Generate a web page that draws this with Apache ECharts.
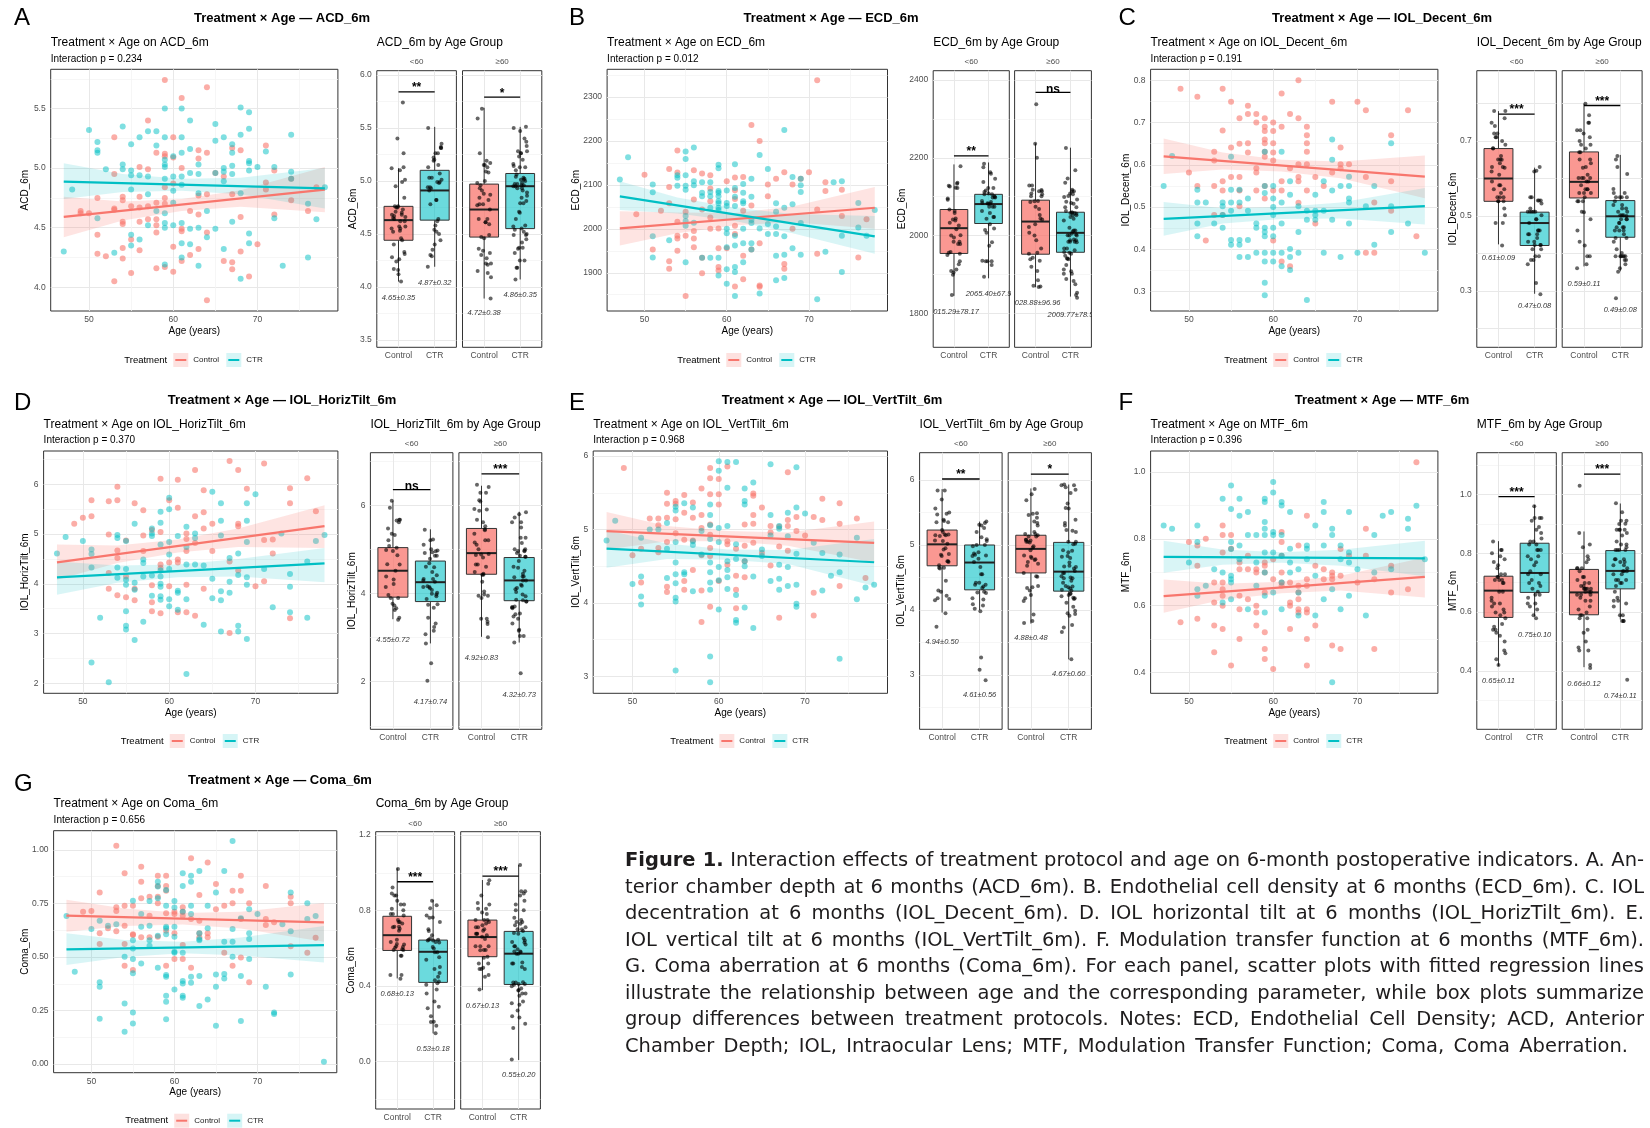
<!DOCTYPE html>
<html>
<head>
<meta charset="utf-8">
<script src="https://cdn.jsdelivr.net/npm/echarts@6/dist/echarts.min.js"></script>
<style>
html, body { margin: 0; padding: 0; background: #fff; }
#chart { position: absolute; left: 0; top: 0; width: 1650px; height: 1128px; }
#caption { position: absolute; left: 625px; top: 847px; width: 1019px; font-family: 'DejaVu Sans', 'Liberation Sans', Arial, sans-serif; font-size: 20px; color: #1e1c1d; }
#caption div { height: 26.5px; line-height: 26.5px; white-space: nowrap; text-align: justify; text-align-last: justify; }
#caption div.last { width: 1003px; }
#caption.measure div { text-align: left; text-align-last: left; }
</style>
</head>
<body>
<div id="chart"></div>
<div id="caption" class="measure">
<div><span><b>Figure 1.</b> Interaction effects of treatment protocol and age on 6-month postoperative indicators. A. An-</span></div>
<div><span>terior chamber depth at 6 months (ACD_6m). B. Endothelial cell density at 6 months (ECD_6m). C. IOL</span></div>
<div><span>decentration at 6 months (IOL_Decent_6m). D. IOL horizontal tilt at 6 months (IOL_HorizTilt_6m). E.</span></div>
<div><span>IOL vertical tilt at 6 months (IOL_VertTilt_6m). F. Modulation transfer function at 6 months (MTF_6m).</span></div>
<div><span>G. Coma aberration at 6 months (Coma_6m). For each panel, scatter plots with fitted regression lines</span></div>
<div><span>illustrate the relationship between age and the corresponding parameter, while box plots summarize</span></div>
<div><span>group differences between treatment protocols. Notes: ECD, Endothelial Cell Density; ACD, Anterior</span></div>
<div class="last"><span>Chamber Depth; IOL, Intraocular Lens; MTF, Modulation Transfer Function; Coma, Coma Aberration.</span></div>
</div>
<script>
const FONT = "'Liberation Sans', Arial, Helvetica, sans-serif";
const CTRL = '#F8766D';
const CTR = '#00BFC4';

const treatments = ['Control', 'CTR'];
const ageGroups = ['<60', '≥60'];
const outcomes = ['ACD_6m', 'ECD_6m', 'IOL_Decent_6m', 'IOL_HorizTilt_6m', 'IOL_VertTilt_6m', 'MTF_6m', 'Coma_6m'];
const panelLetters = ['A', 'B', 'C', 'D', 'E', 'F', 'G'];
const interactionP = ['0.234', '0.012', '0.191', '0.370', '0.968', '0.396', '0.656'];

// horizontal spread of the jittered points inside a box (category units)
const jitterOffsets = [-0.12, 0.05, 0.17, -0.03, 0.10, -0.18, 0.02, 0.14, -0.08, 0.19, -0.15, 0.07, -0.01, 0.12, -0.19, 0.04, 0.16, -0.06, 0.09, -0.13, 0.00, 0.18, -0.10];

// ---- A: ACD_6m ----
const acdCtrl = [[49,4.64],[49,4.62],[50,4.62],[51,4.75],[51,4.44],[51,4.28],[52,4.26],[53,5.26],[53,4.95],[53,4.66],[53,4.65],[53,4.05],[54,4.76],[54,4.73],[54,4.55],[54,4.53],[54,4.33],[54,4.24],[55,4.68],[55,4.40],[55,4.12],[56,5.01],[56,4.76],[56,4.67],[56,4.55],[56,4.31],[57,5.40],[57,4.99],[57,4.68],[57,4.57],[58,5.13],[58,4.71],[58,4.57],[58,4.52],[58,4.46],[58,4.16],[59,5.74],[59,5.12],[59,5.10],[59,4.84],[59,4.75],[59,4.70],[59,4.17],[60,5.26],[60,5.09],[60,4.87],[60,4.34],[60,4.13],[61,5.59],[61,5.00],[61,4.49],[61,4.47],[61,4.22],[62,4.64],[62,4.27],[63,5.15],[63,5.08],[63,4.77],[63,4.61],[63,4.32],[64,5.68],[64,5.13],[64,4.78],[64,4.46],[64,3.89],[65,4.96],[66,4.93],[66,4.22],[67,5.17],[67,4.78],[67,4.21],[67,4.15],[68,5.15],[68,4.59],[68,4.30],[69,4.09],[70,4.36],[71,5.19],[71,4.88],[71,4.82],[72,4.98],[72,4.61],[74,4.73],[74,4.91],[76,4.64],[77,4.84]];
const acdCtr = [[47,4.30],[48,4.82],[50,5.32],[51,5.22],[51,5.15],[51,5.13],[51,4.58],[52,4.99],[53,4.29],[54,5.35],[54,5.03],[54,4.99],[55,5.20],[55,4.98],[55,4.94],[55,4.82],[55,4.44],[55,4.35],[56,5.26],[56,4.94],[56,4.40],[57,5.31],[57,4.93],[57,4.78],[57,4.52],[58,5.31],[58,5.19],[58,4.64],[59,5.50],[59,5.26],[59,5.07],[59,5.03],[59,5.01],[59,4.91],[59,4.62],[59,4.54],[59,4.50],[59,4.19],[60,5.10],[60,4.93],[60,4.81],[60,4.71],[60,4.52],[61,5.50],[61,5.26],[61,5.13],[61,4.93],[61,4.86],[61,4.54],[61,4.37],[61,4.25],[62,5.40],[62,5.16],[62,4.96],[62,4.49],[62,4.36],[63,5.03],[63,4.95],[63,4.79],[63,4.50],[63,4.18],[64,4.64],[64,4.42],[65,5.37],[65,5.23],[65,4.96],[65,4.49],[66,5.26],[66,5.00],[66,4.97],[66,4.89],[66,4.32],[67,5.20],[67,5.13],[67,5.02],[67,4.95],[67,4.55],[68,5.51],[68,5.28],[68,4.79],[68,4.07],[69,5.47],[69,5.33],[69,5.06],[69,5.04],[69,4.98],[69,4.45],[69,4.37],[70,5.01],[71,5.14],[72,5.01],[72,4.58],[73,4.18],[74,5.28],[74,4.97],[74,4.91],[76,4.70],[76,4.25],[77,4.57],[78,4.84]];
const acdFitCtrl = [[47,4.59],[78,4.82]];
const acdFitCtr = [[47,4.887],[78,4.83]];
const acdBandCtrl = [[47,4.42,4.76],[54,4.56,4.72],[61,4.64,4.74],[68,4.675,4.815],[78,4.63,5.01]];
const acdBandCtr = [[47,4.74,5.04],[54,4.80,4.95],[61,4.81,4.91],[68,4.78,4.92],[78,4.66,5.00]];
const acdBoxYoung = [[4.05,4.44,4.63,4.76,5.12],[4.19,4.63,4.91,5.10,5.51]];
const acdBoxOld = [[3.89,4.47,4.73,4.97,5.69],[4.07,4.55,4.95,5.07,5.51]];
const acdMeanSd = ['4.65±0.35','4.87±0.32','4.72±0.38','4.86±0.35'];
const acdSig = ['**','*'];

// ---- B: ECD_6m ----
const ecdCtrl = [[49,2033],[50,2123],[51,1953],[52,2041],[53,2136],[53,2095],[53,2058],[53,1926],[53,1909],[54,2178],[54,2128],[54,2016],[54,1984],[54,1978],[54,1950],[55,2039],[55,1984],[55,1847],[56,2133],[56,2067],[56,1995],[56,1978],[56,1958],[57,2126],[57,2044],[57,1934],[57,1899],[58,2122],[58,2092],[58,2063],[58,2026],[58,2000],[59,2001],[59,1956],[59,1913],[59,1905],[60,2108],[60,1956],[61,2117],[61,2088],[61,2068],[61,2007],[61,1988],[61,1869],[62,2118],[62,2041],[62,1939],[62,1885],[63,2236],[63,2053],[63,1953],[64,2200],[64,1967],[64,1871],[64,1868],[65,2101],[65,2074],[66,2114],[67,2129],[67,1920],[67,1909],[68,2101],[68,2000],[69,2114],[70,2129],[71,2338],[71,2044],[71,1943],[72,2106],[72,2086],[74,2089],[74,2029],[76,1935],[77,2022]];
const ecdCtr = [[47,2112],[48,2163],[51,2101],[51,2083],[51,1983],[51,1935],[53,1974],[54,2122],[54,2116],[54,2098],[55,2176],[55,2159],[55,2122],[55,2098],[55,2089],[55,2029],[55,2018],[55,2007],[55,1924],[56,2185],[56,2108],[56,2099],[56,2014],[57,2106],[57,2082],[57,2074],[57,1934],[58,2106],[58,2084],[58,2074],[58,2048],[58,1934],[59,2146],[59,2138],[59,2086],[59,2082],[59,2074],[59,2063],[59,2058],[59,2048],[59,2043],[59,1934],[59,1894],[60,2087],[60,2059],[60,2052],[60,2000],[60,1990],[60,1958],[60,1908],[60,1875],[61,2147],[61,2093],[61,2073],[61,2052],[61,1984],[61,1962],[61,1913],[61,1902],[61,1847],[62,2102],[62,2082],[62,2063],[62,2058],[62,2000],[62,1967],[62,1924],[63,2114],[63,2073],[63,2020],[63,2013],[63,1967],[63,1953],[64,2168],[64,2001],[64,1853],[65,2136],[65,2011],[65,1988],[66,2058],[66,2039],[66,2005],[66,1988],[66,1939],[66,1883],[67,2225],[67,2048],[67,1983],[67,1941],[67,1888],[68,2118],[68,2056],[68,1956],[69,2114],[69,2099],[69,2084],[69,2013],[69,1941],[71,1840],[72,1948],[73,2106],[74,2108],[74,1984],[74,1902],[76,2059],[76,2003],[77,1984],[78,2043]];
const ecdFitCtrl = [[47,2001],[78,2048]];
const ecdFitCtr = [[47,2074],[78,1983]];
const ecdBandCtrl = [[47,1962,2040],[54,1990,2037],[61,2008,2036],[68,2015,2051],[78,2000,2095]];
const ecdBandCtr = [[47,2043,2108],[54,2035,2071],[61,2018,2048],[68,1990,2034],[78,1943,2029]];
const ecdBoxYoung = [[1845,1954,2019,2067,2183],[1890,2031,2081,2106,2188]];
const ecdBoxOld = [[1867,1952,2036,2091,2237],[1843,1957,2007,2060,2226]];
const ecdMeanSd = ['2015.29±78.17','2065.40±67.9','2028.88±96.96','2009.77±78.5'];
const ecdSig = ['**','ns'];

// ---- C: IOL_Decent_6m ----
const decCtrl = [[49,.780],[50,.582],[51,.761],[51,.550],[52,.421],[53,.631],[53,.610],[53,.550],[53,.481],[54,.780],[54,.681],[54,.561],[54,.539],[54,.481],[55,.749],[55,.641],[55,.571],[56,.710],[56,.650],[56,.571],[56,.539],[56,.502],[57,.740],[57,.720],[57,.651],[57,.629],[58,.720],[58,.700],[58,.592],[58,.582],[58,.539],[59,.710],[59,.690],[59,.680],[59,.660],[59,.651],[59,.631],[59,.619],[59,.550],[59,.520],[60,.700],[60,.680],[60,.651],[60,.629],[60,.610],[60,.539],[60,.421],[61,.769],[61,.690],[61,.561],[61,.539],[61,.371],[62,.720],[62,.592],[62,.360],[63,.800],[63,.710],[63,.601],[63,.571],[63,.561],[63,.510],[64,.690],[64,.670],[64,.651],[64,.631],[64,.601],[64,.539],[65,.571],[65,.461],[66,.550],[67,.749],[67,.582],[68,.641],[68,.601],[68,.592],[69,.601],[70,.749],[71,.729],[71,.571],[71,.392],[72,.511],[72,.392],[74,.670],[74,.561],[74,.491],[76,.729],[77,.431]];
const decCtr = [[47,.550],[48,.621],[51,.541],[51,.511],[51,.461],[51,.431],[52,.511],[53,.461],[54,.511],[54,.502],[54,.481],[54,.451],[55,.619],[55,.541],[55,.511],[55,.491],[55,.422],[55,.411],[56,.541],[56,.511],[56,.422],[56,.411],[56,.382],[57,.520],[57,.491],[57,.422],[57,.382],[58,.461],[58,.451],[58,.392],[59,.631],[59,.550],[59,.533],[59,.451],[59,.441],[59,.431],[59,.392],[59,.371],[59,.321],[59,.291],[60,.550],[60,.520],[60,.500],[60,.481],[60,.451],[60,.431],[60,.392],[60,.371],[61,.631],[61,.511],[61,.461],[61,.392],[61,.360],[62,.561],[62,.529],[62,.401],[62,.382],[62,.351],[63,.502],[63,.441],[63,.392],[64,.491],[64,.470],[64,.280],[65,.529],[65,.491],[65,.481],[65,.470],[66,.561],[66,.491],[66,.392],[67,.660],[67,.612],[67,.539],[67,.470],[68,.550],[68,.382],[69,.572],[69,.550],[69,.520],[69,.511],[69,.461],[70,.392],[71,.502],[72,.550],[72,.411],[74,.651],[74,.502],[74,.441],[76,.461],[78,.392]];
const decFitCtrl = [[47,.620],[78,.572]];
const decFitCtr = [[47,.472],[78,.502]];
const decBandCtrl = [[47,.578,.662],[54,.589,.629],[61,.584,.612],[68,.568,.608],[78,.521,.622]];
const decBandCtr = [[47,.432,.512],[54,.461,.497],[61,.472,.500],[68,.473,.511],[78,.459,.545]];
const decBoxYoung = [[.424,.539,.600,.680,.780],[.292,.421,.481,.510,.629]];
const decBoxOld = [[.365,.548,.591,.671,.800],[.352,.443,.499,.541,.663]];
const decMeanSd = ['0.61±0.09','0.47±0.08','0.59±0.11','0.49±0.08'];
const decSig = ['***','***'];

// ---- D: IOL_HorizTilt_6m ----
const htCtrl = [[49,5.21],[50,5.33],[51,5.68],[51,5.36],[53,5.66],[53,4.99],[53,4.22],[53,3.90],[54,5.95],[54,5.68],[54,4.67],[54,4.52],[54,3.77],[55,4.87],[55,4.15],[55,3.73],[56,5.62],[56,3.90],[56,3.67],[57,5.48],[57,4.97],[57,4.66],[58,5.08],[58,3.97],[58,3.63],[58,3.45],[59,6.11],[59,5.04],[59,4.39],[59,4.32],[59,3.41],[60,5.68],[60,4.43],[60,3.95],[61,6.09],[61,5.53],[61,4.49],[61,4.43],[61,3.43],[62,5.01],[62,4.90],[62,4.66],[62,3.98],[62,3.43],[63,6.29],[63,5.36],[63,4.82],[63,3.36],[64,5.88],[64,5.44],[64,5.11],[64,3.90],[65,5.21],[65,4.66],[67,6.47],[67,4.45],[67,3.01],[68,6.29],[68,5.21],[68,5.16],[68,4.27],[69,5.91],[70,3.95],[71,6.42],[71,4.88],[71,4.05],[72,4.89],[72,4.61],[74,5.92],[74,5.62],[74,3.31],[76,6.12],[77,5.46]];
const htCtr = [[47,4.61],[48,4.94],[50,4.86],[51,4.69],[51,4.60],[51,4.33],[51,2.42],[52,3.32],[53,2.02],[54,4.98],[54,4.92],[54,4.33],[54,4.12],[55,4.86],[55,4.30],[55,4.08],[55,3.98],[55,3.45],[55,3.16],[55,3.08],[56,5.21],[56,4.02],[56,3.88],[56,2.87],[57,4.49],[57,4.42],[57,4.15],[57,3.24],[58,5.11],[58,5.01],[58,4.96],[58,4.17],[58,3.76],[59,5.45],[59,5.23],[59,4.79],[59,4.27],[59,4.15],[59,4.00],[59,3.94],[59,3.75],[59,3.68],[60,5.73],[60,5.50],[60,4.84],[60,4.59],[60,4.30],[60,3.69],[60,3.55],[61,4.96],[61,3.86],[61,3.82],[61,3.48],[62,5.15],[62,4.74],[62,4.39],[62,3.69],[62,2.19],[63,5.01],[63,4.92],[63,4.39],[64,4.37],[64,3.18],[65,5.85],[65,4.10],[65,3.71],[66,5.62],[66,5.27],[66,4.97],[66,3.85],[66,3.67],[66,3.04],[67,4.52],[67,4.04],[67,3.82],[68,4.61],[68,4.18],[68,3.16],[68,3.04],[69,5.62],[69,5.27],[69,4.84],[69,4.13],[69,3.98],[69,2.89],[70,5.80],[71,4.30],[72,3.53],[73,5.01],[74,4.20],[74,3.94],[74,3.43],[76,4.45],[76,3.32],[77,4.86],[78,4.98]];
const htFitCtrl = [[47,4.43],[78,5.16]];
const htFitCtr = [[47,4.13],[78,4.41]];
const htBandCtrl = [[47,4.08,4.79],[54,4.42,4.77],[61,4.63,4.89],[68,4.74,5.11],[78,4.72,5.58]];
const htBandCtr = [[47,3.78,4.45],[54,4.02,4.37],[61,4.13,4.39],[68,4.15,4.50],[78,4.03,4.72]];
const htBoxYoung = [[3.42,3.92,4.52,5.045,6.11],[2.87,3.82,4.26,4.74,5.46]];
const htBoxOld = [[3.02,4.44,4.92,5.48,6.45],[2.89,3.84,4.30,4.82,5.86]];
const htMeanSd = ['4.55±0.72','4.17±0.74','4.92±0.83','4.32±0.73'];
const htSig = ['ns','***'];

// ---- E: IOL_VertTilt_6m ----
const vtCtrl = [[49,5.84],[50,4.65],[51,4.74],[51,4.28],[52,5.15],[53,5.15],[53,5.06],[53,4.75],[53,4.69],[54,5.50],[54,5.35],[54,5.16],[54,4.83],[54,4.22],[54,4.15],[55,5.39],[55,5.35],[55,5.14],[55,4.95],[56,5.47],[56,5.23],[56,4.86],[56,4.30],[56,4.18],[57,5.37],[57,5.16],[57,4.85],[57,4.45],[58,5.56],[58,5.20],[58,5.02],[58,4.65],[58,4.17],[58,3.74],[59,5.84],[59,5.70],[59,5.48],[59,5.07],[59,4.93],[59,4.75],[59,4.64],[59,3.95],[60,5.69],[60,5.48],[60,5.34],[60,4.30],[61,5.86],[61,4.84],[61,4.80],[61,4.52],[62,4.74],[62,4.37],[62,4.18],[62,3.93],[63,5.07],[63,4.78],[63,4.57],[63,4.35],[64,5.49],[64,5.46],[64,5.20],[64,5.08],[64,4.82],[65,5.30],[65,4.68],[66,5.05],[66,4.96],[66,4.51],[67,5.04],[67,4.77],[67,3.80],[68,5.78],[68,5.13],[68,5.05],[68,4.71],[69,5.17],[69,4.98],[70,4.92],[71,5.17],[71,4.14],[71,3.83],[72,5.42],[72,5.13],[74,5.36],[74,5.08],[74,4.23],[76,5.15],[77,4.34]];
const vtCtr = [[47,4.85],[48,5.12],[50,4.26],[51,4.89],[51,4.36],[51,4.09],[51,3.98],[52,5.00],[53,5.00],[54,5.09],[54,4.74],[54,4.34],[55,5.31],[55,5.26],[55,4.83],[55,4.55],[55,4.39],[55,4.27],[55,4.07],[55,4.02],[55,3.08],[56,5.36],[56,4.42],[56,4.39],[57,5.30],[57,4.84],[57,4.79],[57,4.16],[58,4.98],[58,4.66],[59,5.34],[59,5.20],[59,5.06],[59,4.87],[59,4.55],[59,4.42],[59,4.28],[59,4.18],[59,3.27],[59,2.92],[60,5.93],[60,5.80],[60,5.02],[60,4.83],[60,4.49],[60,4.31],[60,3.91],[61,5.92],[61,5.57],[61,5.05],[61,4.57],[61,4.45],[61,4.35],[61,4.19],[62,5.92],[62,4.80],[62,4.60],[62,4.11],[62,3.77],[62,3.73],[63,5.56],[63,5.39],[63,5.34],[63,4.57],[63,4.50],[63,3.94],[64,5.64],[64,4.36],[64,3.66],[65,4.73],[65,4.64],[66,5.89],[66,5.20],[66,4.92],[66,4.30],[67,5.05],[67,5.01],[67,4.52],[67,4.33],[67,4.18],[68,5.23],[68,4.91],[68,4.49],[68,4.23],[69,5.85],[69,5.30],[69,4.67],[69,4.25],[69,3.99],[69,3.95],[70,5.22],[71,4.82],[72,4.68],[72,4.17],[73,4.37],[74,4.66],[74,4.42],[74,3.24],[76,4.89],[76,4.05],[77,4.21],[78,4.25]];
const vtFitCtrl = [[47,4.98],[78,4.82]];
const vtFitCtr = [[47,4.74],[78,4.555]];
const vtBandCtrl = [[47,4.73,5.24],[54,4.84,5.05],[61,4.84,4.98],[68,4.78,4.96],[78,4.55,5.11]];
const vtBandCtr = [[47,4.48,4.99],[54,4.60,4.81],[61,4.59,4.73],[68,4.53,4.72],[78,4.23,4.87]];
const vtBoxYoung = [[3.96,4.68,5.01,5.23,5.86],[4.00,4.31,4.73,5.00,5.36]];
const vtBoxOld = [[3.79,4.57,4.94,5.15,5.87],[3.24,4.29,4.59,5.04,5.93]];
const vtMeanSd = ['4.94±0.50','4.61±0.56','4.88±0.48','4.67±0.60'];
const vtSig = ['**','*'];

// ---- F: MTF_6m ----
const mtfCtrl = [[49,.550],[50,.790],[51,.780],[51,.719],[51,.560],[52,.800],[53,.669],[53,.609],[53,.540],[53,.460],[54,.840],[54,.811],[54,.759],[54,.669],[54,.649],[54,.629],[54,.599],[54,.530],[55,.811],[55,.770],[55,.420],[56,.729],[56,.709],[56,.629],[56,.589],[56,.500],[57,.749],[57,.709],[57,.619],[58,.709],[58,.699],[58,.599],[58,.579],[58,.540],[59,.729],[59,.719],[59,.699],[59,.639],[59,.520],[59,.470],[59,.440],[60,.739],[60,.679],[60,.410],[61,.820],[61,.790],[61,.749],[61,.699],[61,.669],[61,.659],[62,.669],[62,.609],[62,.599],[62,.530],[63,.780],[63,.659],[63,.639],[63,.619],[63,.589],[63,.579],[64,.869],[64,.679],[64,.659],[64,.589],[64,.579],[64,.500],[64,.420],[65,.719],[65,.540],[66,.709],[66,.679],[67,.699],[67,.689],[67,.679],[67,.480],[68,.769],[68,.689],[68,.470],[69,.749],[70,.669],[71,.830],[71,.749],[72,.679],[72,.470],[74,.719],[74,.639],[76,.649],[77,1.029]];
const mtfCtr = [[47,.840],[48,.830],[50,.729],[51,.840],[51,.790],[51,.649],[51,.629],[52,.659],[53,.709],[54,.920],[54,.699],[54,.609],[55,.960],[55,.889],[55,.790],[55,.769],[55,.689],[55,.679],[55,.669],[55,.619],[56,.920],[56,.869],[56,.780],[56,.739],[57,.880],[57,.811],[57,.589],[58,.811],[58,.729],[58,.659],[59,.920],[59,.910],[59,.850],[59,.830],[59,.811],[59,.759],[59,.699],[59,.629],[59,.579],[60,.970],[60,.939],[60,.820],[60,.811],[60,.759],[60,.639],[61,.910],[61,.900],[61,.811],[61,.749],[61,.669],[61,.589],[62,.880],[62,.770],[62,.729],[62,.699],[63,.709],[63,.639],[63,.570],[64,.780],[64,.770],[64,.739],[65,.840],[65,.689],[65,.570],[66,.910],[66,.880],[66,.780],[66,.619],[67,.830],[67,.811],[67,.649],[67,.370],[68,.780],[68,.739],[68,.589],[69,.880],[69,.759],[69,.729],[69,.629],[70,.709],[71,.570],[72,.811],[72,.699],[73,.869],[74,.880],[74,.709],[76,.860],[76,.830],[77,.899],[78,.739]];
const mtfFitCtrl = [[47,.628],[78,.686]];
const mtfFitCtr = [[47,.746],[78,.741]];
const mtfBandCtrl = [[47,.578,.678],[54,.617,.665],[61,.637,.671],[68,.645,.689],[78,.624,.744]];
const mtfBandCtr = [[47,.698,.794],[54,.722,.768],[61,.728,.760],[68,.719,.767],[78,.688,.794]];
const mtfBoxYoung = [[.417,.582,.673,.722,.841],[.586,.667,.733,.834,.964]];
const mtfBoxOld = [[.413,.591,.667,.745,.874],[.575,.679,.740,.809,.969]];
const mtfMeanSd = ['0.65±0.11','0.75±0.10','0.66±0.12','0.74±0.11'];
const mtfSig = ['***','***'];

// ---- G: Coma_6m ----
const comaCtrl = [[49,.712],[50,.715],[51,.802],[51,.611],[51,.561],[52,.634],[53,1.020],[53,.732],[53,.715],[53,.621],[54,.891],[54,.740],[54,.646],[54,.561],[54,.459],[55,.740],[55,.607],[55,.603],[55,.439],[56,.922],[56,.852],[56,.774],[56,.592],[57,.782],[57,.693],[57,.592],[58,.880],[58,.832],[58,.782],[58,.751],[58,.595],[59,.880],[59,.832],[59,.810],[59,.704],[59,.623],[59,.459],[60,.712],[60,.701],[60,.611],[60,.491],[61,.732],[61,.712],[61,.693],[61,.556],[61,.491],[62,.961],[62,.678],[62,.450],[63,.790],[63,.670],[63,.611],[63,.592],[64,.942],[64,.611],[64,.592],[65,.841],[65,.723],[66,.740],[66,.520],[67,.810],[67,.751],[67,.459],[68,.880],[68,.810],[68,.678],[68,.498],[69,.751],[69,.382],[71,.832],[71,.678],[71,.650],[72,.662],[74,.782],[74,.751],[74,.551],[76,.520],[77,.590]];
const comaCtr = [[47,.692],[48,.431],[50,.631],[51,.670],[51,.382],[51,.361],[51,.212],[52,.646],[53,.653],[54,.502],[54,.283],[54,.151],[55,.763],[55,.579],[55,.540],[55,.491],[55,.424],[55,.241],[55,.190],[56,.701],[56,.642],[56,.470],[57,.762],[57,.646],[57,.579],[57,.553],[58,.852],[58,.829],[58,.774],[58,.600],[58,.450],[59,.813],[59,.740],[59,.642],[59,.634],[59,.607],[59,.416],[59,.408],[59,.319],[59,.291],[59,.210],[60,.762],[60,.731],[60,.642],[60,.595],[60,.525],[60,.520],[60,.349],[61,.891],[61,.832],[61,.712],[61,.520],[61,.388],[61,.377],[61,.319],[61,.310],[62,.880],[62,.852],[62,.740],[62,.701],[62,.408],[62,.380],[63,.902],[63,.611],[63,.584],[63,.579],[63,.411],[63,.271],[64,.740],[64,.634],[64,.302],[65,.802],[65,.419],[65,.361],[65,.179],[66,.902],[66,.572],[66,.421],[66,.400],[67,1.042],[67,.631],[67,.572],[67,.502],[68,.681],[68,.411],[68,.201],[69,.723],[69,.611],[69,.584],[69,.491],[70,.701],[71,.361],[72,.241],[72,.234],[73,.653],[74,.802],[74,.621],[74,.419],[76,.751],[76,.678],[77,.692],[78,.011]];
const comaFitCtrl = [[47,.693],[78,.662]];
const comaFitCtr = [[47,.536],[78,.556]];
const comaBandCtrl = [[47,.618,.768],[54,.645,.727],[61,.652,.706],[68,.633,.711],[78,.572,.752]];
const comaBandCtr = [[47,.463,.611],[54,.500,.580],[61,.518,.572],[68,.507,.591],[78,.475,.645]];
const comaBoxYoung = [[.441,.589,.670,.770,1.024],[.150,.420,.582,.644,.856]];
const comaBoxOld = [[.379,.556,.660,.750,.962],[.009,.409,.572,.690,1.041]];
const comaMeanSd = ['0.68±0.13','0.53±0.18','0.67±0.13','0.55±0.20'];
const comaSig = ['***','***'];

const panelData = [
  { ctrl: acdCtrl, ctr: acdCtr, fitCtrl: acdFitCtrl, fitCtr: acdFitCtr, bandCtrl: acdBandCtrl, bandCtr: acdBandCtr, boxYoung: acdBoxYoung, boxOld: acdBoxOld, meanSd: acdMeanSd, sig: acdSig },
  { ctrl: ecdCtrl, ctr: ecdCtr, fitCtrl: ecdFitCtrl, fitCtr: ecdFitCtr, bandCtrl: ecdBandCtrl, bandCtr: ecdBandCtr, boxYoung: ecdBoxYoung, boxOld: ecdBoxOld, meanSd: ecdMeanSd, sig: ecdSig },
  { ctrl: decCtrl, ctr: decCtr, fitCtrl: decFitCtrl, fitCtr: decFitCtr, bandCtrl: decBandCtrl, bandCtr: decBandCtr, boxYoung: decBoxYoung, boxOld: decBoxOld, meanSd: decMeanSd, sig: decSig },
  { ctrl: htCtrl, ctr: htCtr, fitCtrl: htFitCtrl, fitCtr: htFitCtr, bandCtrl: htBandCtrl, bandCtr: htBandCtr, boxYoung: htBoxYoung, boxOld: htBoxOld, meanSd: htMeanSd, sig: htSig },
  { ctrl: vtCtrl, ctr: vtCtr, fitCtrl: vtFitCtrl, fitCtr: vtFitCtr, bandCtrl: vtBandCtrl, bandCtr: vtBandCtr, boxYoung: vtBoxYoung, boxOld: vtBoxOld, meanSd: vtMeanSd, sig: vtSig },
  { ctrl: mtfCtrl, ctr: mtfCtr, fitCtrl: mtfFitCtrl, fitCtr: mtfFitCtr, bandCtrl: mtfBandCtrl, bandCtr: mtfBandCtr, boxYoung: mtfBoxYoung, boxOld: mtfBoxOld, meanSd: mtfMeanSd, sig: mtfSig },
  { ctrl: comaCtrl, ctr: comaCtr, fitCtrl: comaFitCtrl, fitCtr: comaFitCtr, bandCtrl: comaBandCtrl, bandCtr: comaBandCtr, boxYoung: comaBoxYoung, boxOld: comaBoxOld, meanSd: comaMeanSd, sig: comaSig },
];

// page layout (pixels) and axis ranges
const rows = [
  { letterY: 18, titleY: 18, subY: 43, pY: 59, scTop: 69.3, scBottom: 311, boxTop: 70.7, boxBottom: 347.3, stripY: 62, legendY: 360 },
  { letterY: 403, titleY: 400.7, subY: 424.3, pY: 440.3, scTop: 451, scBottom: 693.3, boxTop: 452.7, boxBottom: 729.3, stripY: 444, legendY: 741 },
  { letterY: 784, titleY: 780, subY: 804, pY: 820, scTop: 830.7, scBottom: 1072.7, boxTop: 831.7, boxBottom: 1109, stripY: 823.3, legendY: 1120.7 },
];
const layouts = [
  { row: 0, letterX: 14, titleX: 282, sc: [50.7, 337.9], b1: [376.8, 456.4], b2: [462.5, 541.8], scY: [3.80, 5.83], scStep: 0.5, scDig: 1, boxY: [3.43, 6.04], boxStep: 0.5, boxDig: 1, scGap: 20, boxGap: 19, meanY: [3.90, 4.04, 3.75, 3.92], sigY: [5.84, 5.79] },
  { row: 0, letterX: 569, titleX: 831, sc: [607.1, 887.5], b1: [933.2, 1009.3], b2: [1014.6, 1091.4], scY: [1813, 2363], scStep: 100, scDig: 0, boxY: [1712.6, 2424], boxStep: 200, boxDig: 0, scGap: 26, boxGap: 26, meanY: [1803, 1850, 1826, 1797], sigY: [2205, 2368] },
  { row: 0, letterX: 1118.6, titleX: 1382, sc: [1150.6, 1437.9], b1: [1476.8, 1556.3], b2: [1562.2, 1642.1], scY: [0.254, 0.826], scStep: 0.1, scDig: 1, boxY: [0.149, 0.888], boxStep: 0.1, boxDig: 1, oddOnly: true, scGap: 19, boxGap: 19, meanY: [0.389, 0.260, 0.319, 0.249], sigY: [0.772, 0.795] },
  { row: 1, letterX: 14, titleX: 282, sc: [43.6, 337.9], b1: [370.4, 452.9], b2: [458.9, 541.8], scY: [1.80, 6.67], scStep: 1, scDig: 0, boxY: [0.92, 7.20], boxStep: 2, boxDig: 0, scGap: 13, boxGap: 13, meanY: [2.94, 1.55, 2.55, 1.71], sigY: [6.36, 6.72] },
  { row: 1, letterX: 569, titleX: 832, sc: [593.2, 887.5], b1: [919.6, 1002.1], b2: [1008.2, 1091.4], scY: [2.77, 6.07], scStep: 1, scDig: 0, boxY: [2.164, 6.42], boxStep: 1, boxDig: 0, scGap: 12, boxGap: 13, meanY: [3.51, 2.70, 3.57, 3.02], sigY: [6.015, 6.09] },
  { row: 1, letterX: 1118.6, titleX: 1382, sc: [1150.6, 1437.9], b1: [1476.8, 1556.3], b2: [1562.2, 1642.1], scY: [0.337, 1.063], scStep: 0.2, scDig: 1, boxY: [0.202, 1.1415], boxStep: 0.2, boxDig: 1, scGap: 19, boxGap: 19, meanY: [0.366, 0.524, 0.356, 0.317], sigY: [0.992, 1.069] },
  { row: 2, letterX: 14, titleX: 280, sc: [53.6, 336.8], b1: [375.7, 454.6], b2: [460.7, 540.4], scY: [-0.04, 1.09], scStep: 0.25, scDig: 2, boxY: [-0.2506, 1.218], boxStep: 0.4, boxDig: 1, scGap: 23, boxGap: 19, meanY: [0.357, 0.067, 0.297, -0.071], sigY: [0.953, 0.983] },
];

const grids = [], xAxes = [], yAxes = [], series = [], graphics = [];

function txt(x, y, text, font, align, fill) {
  graphics.push({
    type: 'text', x, y, silent: true,
    style: { text, font, fill: fill || '#000', align: align || 'left', verticalAlign: 'middle', textAlign: align || 'left', textVerticalAlign: 'middle' },
  });
}

function addGrid(l, r, t, b) {
  grids.push({ left: l, top: t, width: r - l, height: b - t, show: true, borderColor: '#333', borderWidth: 1, backgroundColor: 'transparent', containLabel: false, outerBoundsMode: 'none' });
  return grids.length - 1;
}

function valueAxis(gridIndex, range, step, labelOpt, extra) {
  return Object.assign({
    type: 'value', gridIndex, min: range[0], max: range[1], minInterval: step, maxInterval: step,
    axisLine: { show: false }, axisTick: { show: false },
    axisLabel: Object.assign({ color: '#4D4D4D', fontSize: 8.5, fontFamily: FONT, margin: 4, showMinLabel: false, showMaxLabel: false }, labelOpt),
    splitLine: { show: true, showMinLine: false, showMaxLine: false, lineStyle: { color: '#E8E8E8', width: 1 } },
    minorTick: { show: false, splitNumber: 2 },
    minorSplitLine: { show: true, lineStyle: { color: '#F4F4F4', width: 0.8 } },
    nameMoveOverlap: false,
    nameTextStyle: { fontSize: 10, color: '#000', fontFamily: FONT },
  }, extra);
}

function bandSeries(xi, yi, band, color, alpha) {
  return {
    type: 'custom', xAxisIndex: xi, yAxisIndex: yi, data: band, z: 3, silent: true,
    renderItem(params, api) {
      if (params.dataIndex !== 0) return null;
      const upper = band.map(r => api.coord([r[0], r[2]]));
      const lower = band.map(r => api.coord([r[0], r[1]])).reverse();
      return { type: 'polygon', shape: { points: upper.concat(lower) }, style: { fill: color, opacity: alpha } };
    },
  };
}

function boxSeries(xi, yi, stats) {
  const fills = ['rgba(248,118,109,0.75)', 'rgba(0,191,196,0.58)'];
  return {
    type: 'custom', xAxisIndex: xi, yAxisIndex: yi, z: 2, silent: true,
    data: stats.map((s, i) => [i + 1].concat(s)),
    encode: { x: 0, y: [1, 2, 3, 4, 5] },
    renderItem(params, api) {
      const x = api.value(0);
      const p = [1, 2, 3, 4, 5].map(d => api.coord([x, api.value(d)]));
      const half = api.size([0.8, 0])[0] / 2;
      const cx = p[0][0];
      return {
        type: 'group', children: [
          { type: 'line', shape: { x1: cx, y1: p[0][1], x2: cx, y2: p[1][1] }, style: { stroke: '#333', lineWidth: 1 } },
          { type: 'line', shape: { x1: cx, y1: p[3][1], x2: cx, y2: p[4][1] }, style: { stroke: '#333', lineWidth: 1 } },
          { type: 'rect', shape: { x: cx - half, y: p[3][1], width: half * 2, height: p[1][1] - p[3][1] }, style: { fill: fills[params.dataIndex], stroke: '#333', lineWidth: 1 } },
          { type: 'line', shape: { x1: cx - half, y1: p[2][1], x2: cx + half, y2: p[2][1] }, style: { stroke: '#222', lineWidth: 2 } },
        ],
      };
    },
  };
}

function annotSeries(xi, yi, sigText, sigY, meanText, meanY) {
  return {
    type: 'custom', xAxisIndex: xi, yAxisIndex: yi, z: 5, silent: true, clip: true,
    data: [[1.5, sigY]],
    renderItem(params, api) {
      const a = api.coord([1, sigY]), b = api.coord([2, sigY]);
      const m1 = api.coord([1, meanY[0]]), m2 = api.coord([2, meanY[1]]);
      const big = sigText === 'ns';
      const label = (x, y, text) => ({ type: 'text', x, y, style: { text, font: 'italic 7.5px ' + FONT, fill: '#333', align: 'center', verticalAlign: 'middle', textAlign: 'center', textVerticalAlign: 'middle' } });
      return {
        type: 'group', children: [
          { type: 'line', shape: { x1: a[0], y1: a[1], x2: b[0], y2: b[1] }, style: { stroke: '#000', lineWidth: 1.3 } },
          { type: 'text', x: (a[0] + b[0]) / 2, y: a[1] + (big ? 3 : 2), style: { text: sigText, font: 'bold 12px ' + FONT, fill: '#000', align: 'center', verticalAlign: 'bottom', textAlign: 'center', textVerticalAlign: 'bottom' } },
          label(m1[0], m1[1], meanText[0]),
          label(m2[0], m2[1], meanText[1]),
        ],
      };
    },
  };
}

function jitter(points, center, young) {
  return points.filter(pt => (young ? pt[0] < 60 : pt[0] >= 60))
    .map((pt, i) => [center + jitterOffsets[i % jitterOffsets.length], pt[1]]);
}

panelData.forEach((d, k) => {
  const L = layouts[k], R = rows[L.row];
  const name = outcomes[k];

  txt(L.letterX, R.letterY, panelLetters[k], '24px ' + FONT);
  txt(L.titleX, R.titleY, 'Treatment × Age — ' + name, 'bold 13px ' + FONT, 'center');
  txt(L.sc[0], R.subY, 'Treatment × Age on ' + name, '12px ' + FONT);
  txt(L.sc[0], R.pY, 'Interaction p = ' + interactionP[k], '10px ' + FONT);
  txt(L.b1[0], R.subY, name + ' by Age Group', '12px ' + FONT);
  txt((L.b1[0] + L.b1[1]) / 2, R.stripY, ageGroups[0], '8px ' + FONT, 'center', '#4D4D4D');
  txt((L.b2[0] + L.b2[1]) / 2, R.stripY, ageGroups[1], '8px ' + FONT, 'center', '#4D4D4D');

  // legend under the scatter panel
  const lx = (L.sc[0] + L.sc[1]) / 2 - 70, ly = R.legendY;
  txt(lx, ly, 'Treatment', '9.5px ' + FONT);
  [[CTRL, 'rgba(248,118,109,0.22)', 49, treatments[0]], [CTR, 'rgba(0,191,196,0.16)', 102, treatments[1]]].forEach(([c, bg, off, label]) => {
    graphics.push({ type: 'rect', silent: true, shape: { x: lx + off, y: ly - 7, width: 15, height: 14 }, style: { fill: bg } });
    graphics.push({ type: 'line', silent: true, shape: { x1: lx + off + 2, y1: ly, x2: lx + off + 13, y2: ly }, style: { stroke: c, lineWidth: 2 } });
    txt(lx + off + 20, ly, label, '8px ' + FONT, 'left', '#222');
  });

  // scatter + regression
  const gi = addGrid(L.sc[0], L.sc[1], R.scTop, R.scBottom);
  xAxes.push(valueAxis(gi, [45.45, 79.55], 10, { formatter: v => v.toFixed(0) }, { name: 'Age (years)', nameLocation: 'middle', nameGap: 15 }));
  yAxes.push(valueAxis(gi, L.scY, L.scStep, { formatter: v => v.toFixed(L.scDig), margin: 5 }, { name, nameLocation: 'middle', nameRotate: 90, nameGap: L.scGap }));
  const xi = xAxes.length - 1, yi = yAxes.length - 1;
  series.push(
    { type: 'scatter', xAxisIndex: xi, yAxisIndex: yi, data: d.ctrl, symbolSize: 6, itemStyle: { color: CTRL, opacity: 0.6 }, z: 2, silent: true },
    { type: 'scatter', xAxisIndex: xi, yAxisIndex: yi, data: d.ctr, symbolSize: 6, itemStyle: { color: CTR, opacity: 0.5 }, z: 2, silent: true },
    bandSeries(xi, yi, d.bandCtrl, CTRL, 0.2),
    bandSeries(xi, yi, d.bandCtr, CTR, 0.15),
    { type: 'line', xAxisIndex: xi, yAxisIndex: yi, data: d.fitCtrl, symbol: 'none', lineStyle: { color: CTRL, width: 2.2 }, z: 4, silent: true },
    { type: 'line', xAxisIndex: xi, yAxisIndex: yi, data: d.fitCtr, symbol: 'none', lineStyle: { color: CTR, width: 2.2 }, z: 4, silent: true },
  );

  // box plot facets by age group
  [[L.b1, d.boxYoung, true], [L.b2, d.boxOld, false]].forEach(([b, stats, young], f) => {
    const g = addGrid(b[0], b[1], R.boxTop, R.boxBottom);
    xAxes.push(valueAxis(g, [0.4, 2.6], 1, { formatter: v => (v === 1 ? treatments[0] : v === 2 ? treatments[1] : ''), margin: 4 }, { minorSplitLine: { show: false } }));
    const yLabel = { formatter: v => (L.oddOnly && Math.round(v * 10) % 2 === 0 ? '' : v.toFixed(L.boxDig)), margin: 5, show: f === 0 };
    const yExtra = f === 0 ? { name, nameLocation: 'middle', nameRotate: 90, nameGap: L.boxGap } : {};
    if (L.oddOnly) yExtra.minorSplitLine = { show: false };
    yAxes.push(valueAxis(g, L.boxY, L.boxStep, yLabel, yExtra));
    const bx = xAxes.length - 1, by = yAxes.length - 1;
    series.push(
      boxSeries(bx, by, stats),
      { type: 'scatter', xAxisIndex: bx, yAxisIndex: by, data: jitter(d.ctrl, 1, young), symbolSize: 4, itemStyle: { color: '#000', opacity: 0.6 }, z: 3, silent: true },
      { type: 'scatter', xAxisIndex: bx, yAxisIndex: by, data: jitter(d.ctr, 2, young), symbolSize: 4, itemStyle: { color: '#000', opacity: 0.6 }, z: 3, silent: true },
      annotSeries(bx, by, d.sig[f], L.sigY[f], [d.meanSd[f * 2], d.meanSd[f * 2 + 1]], [L.meanY[f * 2], L.meanY[f * 2 + 1]]),
    );
  });
});

const chart = echarts.init(document.getElementById('chart'), null, { renderer: 'canvas' });
chart.setOption({
  animation: false,
  backgroundColor: '#fff',
  textStyle: { fontFamily: FONT },
  grid: grids,
  xAxis: xAxes,
  yAxis: yAxes,
  series,
  graphic: { elements: graphics },
});

// caption: pick the largest font size at which every justified line still fits
(function fitCaption() {
  const cap = document.getElementById('caption');
  const spans = Array.from(cap.querySelectorAll('span'));
  const base = 20, target = 1015;
  let size = Infinity;
  spans.forEach((s, i) => {
    if (i < spans.length - 1) size = Math.min(size, base * target / s.getBoundingClientRect().width);
  });
  cap.style.fontSize = Math.min(size, 21.5).toFixed(2) + 'px';
  cap.classList.remove('measure');
})();
</script>
</body>
</html>
